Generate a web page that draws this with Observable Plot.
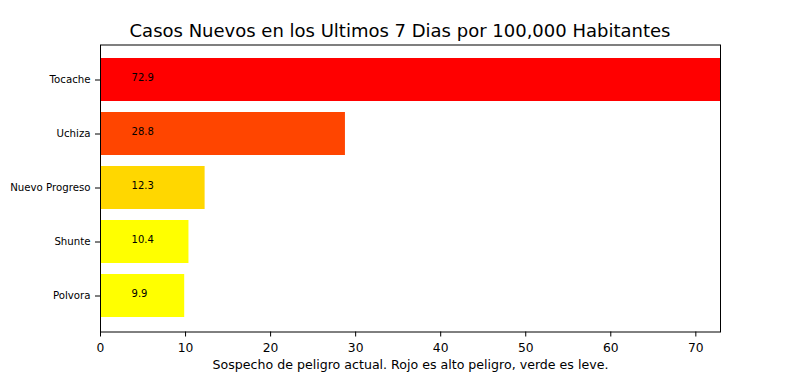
<!DOCTYPE html>
<html>
<head>
<meta charset="utf-8">
<script src="https://cdn.jsdelivr.net/npm/d3@7"></script>
<script src="https://cdn.jsdelivr.net/npm/@observablehq/plot@0.6"></script>
<style>
  html, body { margin: 0; padding: 0; background: #fff; }
  #wrap { width: 800px; height: 373px; overflow: hidden; font-family: "DejaVu Sans", sans-serif; }
  #title { height: 44px; width: 800px; box-sizing: border-box;
           text-align: center; font-size: 18px; line-height: 20px; padding-top: 21px; color: #000; white-space: nowrap; }
</style>
</head>
<body>
<div id="wrap">
  <div id="title">Casos Nuevos en los Ultimos 7 Dias por 100,000 Habitantes</div>
  <div id="chart"></div>
</div>
<script>
const districts = ["Tocache", "Uchiza", "Nuevo Progreso", "Shunte", "Polvora"];
const cases = [72.9, 28.8, 12.3, 10.4, 9.9];
const barColors = ["#ff0000", "#ff4500", "#ffd700", "#ffff00", "#ffff00"];
const xTicks = [0, 10, 20, 30, 40, 50, 60, 70];
const xLabel = "Sospecho de peligro actual. Rojo es alto peligro, verde es leve.";

const data = districts.map((d, i) => ({district: d, value: cases[i]}));

const chart = Plot.plot({
  width: 800,
  height: 329,
  marginTop: 0.5,
  marginLeft: 100,
  marginRight: 80,
  marginBottom: 41.5,
  style: {fontFamily: "DejaVu Sans, sans-serif", background: "#fff", overflow: "visible"},
  x: {domain: [0, 72.9], ticks: xTicks},
  y: {domain: districts, paddingInner: 0.2, paddingOuter: 0.24},
  color: {domain: districts, range: barColors},
  marks: [
    Plot.barX(data, {x: "value", y: "district", fill: "district"}),
    Plot.text(data, {x: () => 3.65, y: "district", text: d => d.value.toFixed(1), fill: "black", fontSize: 10, textAnchor: "start", dy: -2}),
    Plot.frame({stroke: "black", strokeWidth: 1}),
    Plot.axisX({ticks: xTicks, tickSize: 5, tickPadding: 6, fontSize: 12.3, label: null, stroke: "black", color: "black"}),
    Plot.axisY({tickSize: 5, tickPadding: 5, fontSize: 10.2, label: null, color: "black"}),
    Plot.text([xLabel], {frameAnchor: "bottom", text: d => d, dy: 37, fontSize: 12.6, fill: "black"})
  ]
});
document.getElementById("chart").appendChild(chart);
</script>
</body>
</html>
